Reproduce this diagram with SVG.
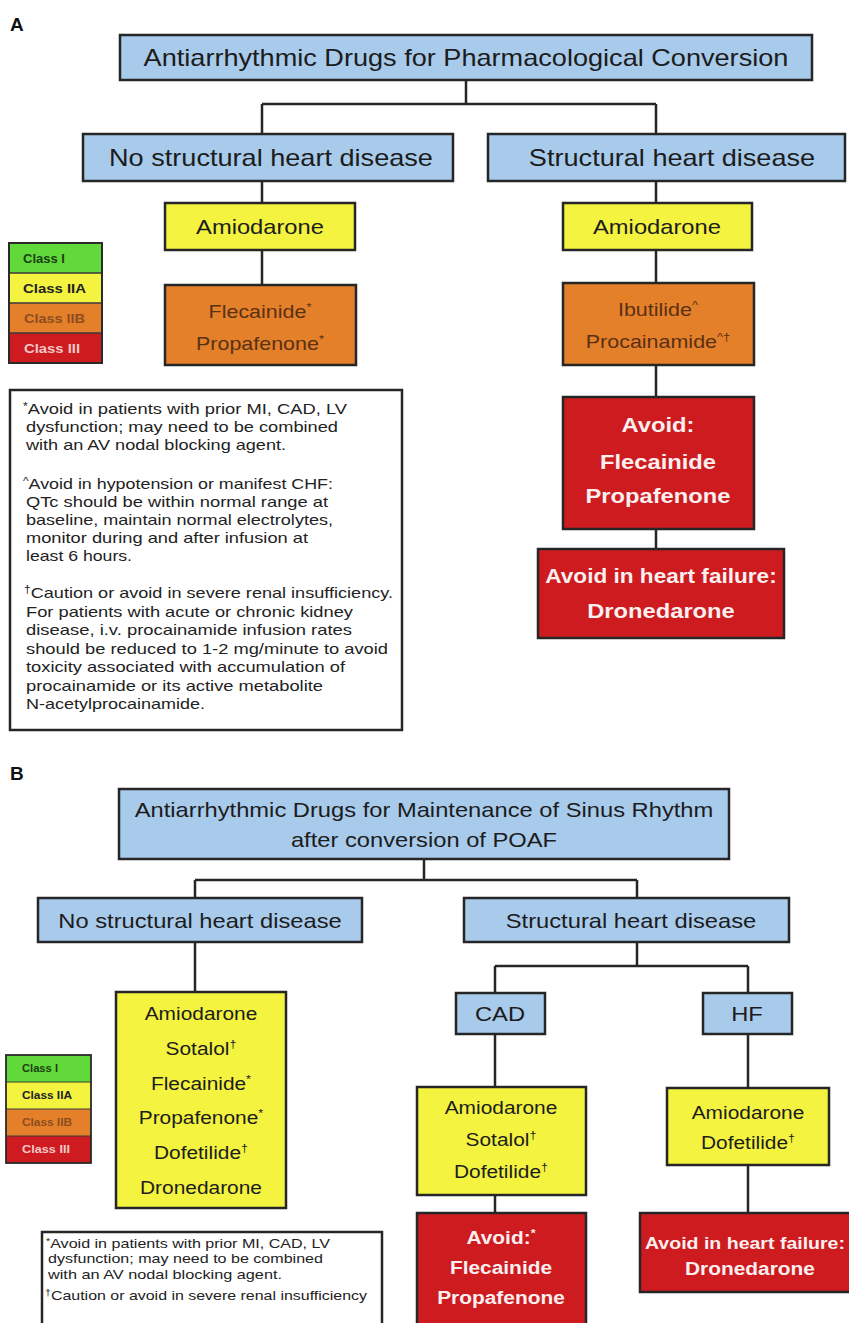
<svg xmlns="http://www.w3.org/2000/svg" width="849" height="1323" viewBox="0 0 849 1323">
  <style>
    text { font-family: "Liberation Sans", Arial, sans-serif; }
    .box { stroke: #262626; stroke-width: 2.5; }
    .blue { fill: #a8caeb; }
    .yellow { fill: #f3f340; }
    .orange { fill: #e4802a; }
    .red { fill: #cd1b20; }
    .green { fill: #62d93a; }
    .line { stroke: #262626; stroke-width: 2.5; fill: none; }
    /* node labels: centred and widened a little */
    .n { text-anchor: middle; transform-box: fill-box; transform-origin: 50% 50%; transform: scaleX(1.13); }
    .dark { fill: #1c1c1c; }
    .brown { fill: #5a3014; }
    .white { fill: #fbefef; font-weight: bold; }
    .sup { font-size: 60%; }
    .lg { font-weight: bold; }
    .fn { fill: #222; }
    .panel { font-weight: bold; font-size: 19px; fill: #111; }
  </style>

  <rect width="849" height="1323" fill="#ffffff"/>

  <!-- panel letters -->
  <text class="panel" x="10" y="31">A</text>
  <text class="panel" x="10" y="780">B</text>

  <!-- connectors -->
  <g id="connectors">
    <!-- panel A -->
    <path class="line" d="M466 80 V104 M262 104 H656 M262 104 V134 M656 104 V134"/>
    <path class="line" d="M262 181 V203 M262 250 V285"/>
    <path class="line" d="M656 181 V203 M656 250 V283 M656 365 V397 M656 529 V549"/>
    <!-- panel B -->
    <path class="line" d="M424 859 V880 M195 880 H637 M195 880 V898 M637 880 V898"/>
    <path class="line" d="M195 942 V992"/>
    <path class="line" d="M637 942 V966 M495 966 H748 M495 966 V993 M748 966 V993"/>
    <path class="line" d="M495 1034 V1087 M495 1195 V1213"/>
    <path class="line" d="M748 1034 V1088 M748 1165 V1213"/>
  </g>

  <!-- ===== Panel A: pharmacological conversion ===== -->
  <g id="a-title">
    <rect class="box blue" x="120" y="35" width="692" height="45"/>
    <text class="n dark" x="466" y="66" font-size="24">Antiarrhythmic Drugs for Pharmacological Conversion</text>
  </g>
  <g id="a-no-shd">
    <rect class="box blue" x="83" y="134" width="370" height="47"/>
    <text class="n dark" x="271" y="166" font-size="24">No structural heart disease</text>
  </g>
  <g id="a-shd">
    <rect class="box blue" x="488" y="134" width="357" height="47"/>
    <text class="n dark" x="672" y="166" font-size="24">Structural heart disease</text>
  </g>
  <g id="a-left-amio">
    <rect class="box yellow" x="165" y="203" width="190" height="47"/>
    <text class="n dark" x="260" y="234" font-size="21">Amiodarone</text>
  </g>
  <g id="a-left-ic">
    <rect class="box orange" x="165" y="285" width="191" height="80"/>
    <text class="n brown" x="260" y="318" font-size="19">Flecainide<tspan class="sup" dy="-7">*</tspan></text>
    <text class="n brown" x="260" y="350" font-size="19">Propafenone<tspan class="sup" dy="-7">*</tspan></text>
  </g>
  <g id="a-right-amio">
    <rect class="box yellow" x="563" y="203" width="189" height="47"/>
    <text class="n dark" x="657" y="234" font-size="21">Amiodarone</text>
  </g>
  <g id="a-right-iii">
    <rect class="box orange" x="563" y="283" width="191" height="82"/>
    <text class="n brown" x="658" y="316" font-size="19">Ibutilide<tspan class="sup" dy="-7">^</tspan></text>
    <text class="n brown" x="658" y="348" font-size="19">Procainamide<tspan class="sup" dy="-7">^†</tspan></text>
  </g>
  <g id="a-avoid-ic">
    <rect class="box red" x="563" y="397" width="191" height="132"/>
    <text class="n white" x="658" y="432" font-size="21">Avoid:</text>
    <text class="n white" x="658" y="469" font-size="21">Flecainide</text>
    <text class="n white" x="658" y="503" font-size="21">Propafenone</text>
  </g>
  <g id="a-avoid-hf">
    <rect class="box red" x="538" y="549" width="246" height="89"/>
    <text class="n white" x="661" y="583" font-size="20">Avoid in heart failure:</text>
    <text class="n white" x="661" y="618" font-size="21">Dronedarone</text>
  </g>

  <!-- class legend A -->
  <g id="a-legend">
    <rect class="green" x="9" y="243" width="93" height="30"/>
    <rect class="yellow" x="9" y="273" width="93" height="30"/>
    <rect class="orange" x="9" y="303" width="93" height="30"/>
    <rect class="red" x="9" y="333" width="93" height="30"/>
    <path d="M9 273 H102 M9 303 H102 M9 333 H102" stroke="#3a3a3a" stroke-width="1.5"/>
    <rect x="9" y="243" width="93" height="120" fill="none" stroke="#2a2a2a" stroke-width="2"/>
    <text class="lg" x="23" y="263" font-size="13" fill="#1b3f12" textLength="42" lengthAdjust="spacingAndGlyphs">Class I</text>
    <text class="lg" x="23" y="293" font-size="13" fill="#222" textLength="63" lengthAdjust="spacingAndGlyphs">Class IIA</text>
    <text class="lg" x="24" y="323" font-size="13" fill="#8d4d20" textLength="61" lengthAdjust="spacingAndGlyphs">Class IIB</text>
    <text class="lg" x="24" y="353" font-size="13" fill="#f3c8c8" textLength="56" lengthAdjust="spacingAndGlyphs">Class III</text>
  </g>

  <!-- footnotes A -->
  <g id="a-notes" class="fn" font-size="15">
    <rect x="10" y="390" width="392" height="340" fill="#ffffff" stroke="#262626" stroke-width="2.5"/>
    <text x="23" y="414" textLength="324" lengthAdjust="spacingAndGlyphs"><tspan font-size="10" dy="-4">*</tspan><tspan dy="4">Avoid in patients with prior MI, CAD, LV</tspan></text>
    <text x="26" y="432" textLength="312" lengthAdjust="spacingAndGlyphs">dysfunction; may need to be combined</text>
    <text x="26" y="450" textLength="260" lengthAdjust="spacingAndGlyphs">with an AV nodal blocking agent.</text>
    <text x="23" y="489" textLength="310" lengthAdjust="spacingAndGlyphs"><tspan font-size="10" dy="-4">^</tspan><tspan dy="4">Avoid in hypotension or manifest CHF:</tspan></text>
    <text x="26" y="507" textLength="302" lengthAdjust="spacingAndGlyphs">QTc should be within normal range at</text>
    <text x="26" y="525" textLength="307" lengthAdjust="spacingAndGlyphs">baseline, maintain normal electrolytes,</text>
    <text x="26" y="543" textLength="282" lengthAdjust="spacingAndGlyphs">monitor during and after infusion at</text>
    <text x="26" y="561" textLength="106" lengthAdjust="spacingAndGlyphs">least 6 hours.</text>
    <text x="24" y="598" textLength="369" lengthAdjust="spacingAndGlyphs"><tspan font-size="10" dy="-5">†</tspan><tspan dy="5">Caution or avoid in severe renal insufficiency.</tspan></text>
    <text x="26" y="616.5" textLength="327" lengthAdjust="spacingAndGlyphs">For patients with acute or chronic kidney</text>
    <text x="26" y="635" textLength="326" lengthAdjust="spacingAndGlyphs">disease, i.v. procainamide infusion rates</text>
    <text x="26" y="653.5" textLength="362" lengthAdjust="spacingAndGlyphs">should be reduced to 1-2 mg/minute to avoid</text>
    <text x="26" y="672" textLength="319" lengthAdjust="spacingAndGlyphs">toxicity associated with accumulation of</text>
    <text x="26" y="690.5" textLength="297" lengthAdjust="spacingAndGlyphs">procainamide or its active metabolite</text>
    <text x="26" y="709" textLength="179" lengthAdjust="spacingAndGlyphs">N-acetylprocainamide.</text>
  </g>

  <!-- ===== Panel B: maintenance of sinus rhythm ===== -->
  <g id="b-title">
    <rect class="box blue" x="119" y="789" width="610" height="70"/>
    <text class="n dark" x="424" y="817" font-size="21">Antiarrhythmic Drugs for Maintenance of Sinus Rhythm</text>
    <text class="n dark" x="424" y="847" font-size="21">after conversion of POAF</text>
  </g>
  <g id="b-no-shd">
    <rect class="box blue" x="38" y="898" width="324" height="44"/>
    <text class="n dark" x="200" y="928" font-size="21">No structural heart disease</text>
  </g>
  <g id="b-shd">
    <rect class="box blue" x="464" y="898" width="325" height="44"/>
    <text class="n dark" x="631" y="928" font-size="21">Structural heart disease</text>
  </g>
  <g id="b-cad">
    <rect class="box blue" x="456" y="993" width="89" height="41"/>
    <text class="n dark" x="500" y="1021" font-size="21">CAD</text>
  </g>
  <g id="b-hf">
    <rect class="box blue" x="703" y="993" width="89" height="41"/>
    <text class="n dark" x="747" y="1021" font-size="21">HF</text>
  </g>
  <g id="b-no-shd-drugs">
    <rect class="box yellow" x="116" y="992" width="170" height="216"/>
    <text class="n dark" x="201" y="1020" font-size="18.5">Amiodarone</text>
    <text class="n dark" x="201" y="1055" font-size="18.5">Sotalol<tspan class="sup" dy="-7">†</tspan></text>
    <text class="n dark" x="201" y="1090" font-size="18.5">Flecainide<tspan class="sup" dy="-7">*</tspan></text>
    <text class="n dark" x="201" y="1124" font-size="18.5">Propafenone<tspan class="sup" dy="-7">*</tspan></text>
    <text class="n dark" x="201" y="1159" font-size="18.5">Dofetilide<tspan class="sup" dy="-7">†</tspan></text>
    <text class="n dark" x="201" y="1194" font-size="18.5">Dronedarone</text>
  </g>
  <g id="b-cad-drugs">
    <rect class="box yellow" x="417" y="1087" width="169" height="108"/>
    <text class="n dark" x="501" y="1114" font-size="18.5">Amiodarone</text>
    <text class="n dark" x="501" y="1146" font-size="18.5">Sotalol<tspan class="sup" dy="-7">†</tspan></text>
    <text class="n dark" x="501" y="1178" font-size="18.5">Dofetilide<tspan class="sup" dy="-7">†</tspan></text>
  </g>
  <g id="b-hf-drugs">
    <rect class="box yellow" x="667" y="1088" width="162" height="77"/>
    <text class="n dark" x="748" y="1119" font-size="18.5">Amiodarone</text>
    <text class="n dark" x="748" y="1149" font-size="18.5">Dofetilide<tspan class="sup" dy="-7">†</tspan></text>
  </g>
  <g id="b-cad-avoid">
    <rect class="box red" x="417" y="1213" width="169" height="120"/>
    <text class="n white" x="501" y="1244" font-size="18.5">Avoid:<tspan class="sup" dy="-7">*</tspan></text>
    <text class="n white" x="501" y="1274" font-size="18.5">Flecainide</text>
    <text class="n white" x="501" y="1304" font-size="18.5">Propafenone</text>
  </g>
  <g id="b-hf-avoid">
    <rect class="box red" x="640" y="1213" width="215" height="79"/>
    <text class="n white" x="745" y="1249" font-size="17.3">Avoid in heart failure:</text>
    <text class="n white" x="750" y="1275" font-size="18.5">Dronedarone</text>
  </g>

  <!-- class legend B -->
  <g id="b-legend">
    <rect class="green" x="6" y="1055" width="85" height="27"/>
    <rect class="yellow" x="6" y="1082" width="85" height="27"/>
    <rect class="orange" x="6" y="1109" width="85" height="27"/>
    <rect class="red" x="6" y="1136" width="85" height="27"/>
    <path d="M6 1082 H91 M6 1109 H91 M6 1136 H91" stroke="#3a3a3a" stroke-width="1.2"/>
    <rect x="6" y="1055" width="85" height="108" fill="none" stroke="#2a2a2a" stroke-width="1.8"/>
    <text class="lg" x="22" y="1072" font-size="10.5" fill="#1b3f12" textLength="36" lengthAdjust="spacingAndGlyphs">Class I</text>
    <text class="lg" x="22" y="1099" font-size="10.5" fill="#222" textLength="50" lengthAdjust="spacingAndGlyphs">Class IIA</text>
    <text class="lg" x="22" y="1126" font-size="10.5" fill="#8d4d20" textLength="50" lengthAdjust="spacingAndGlyphs">Class IIB</text>
    <text class="lg" x="22" y="1153" font-size="10.5" fill="#f3c8c8" textLength="48" lengthAdjust="spacingAndGlyphs">Class III</text>
  </g>

  <!-- footnotes B -->
  <g id="b-notes" class="fn" font-size="13.5">
    <rect x="42" y="1232" width="340" height="110" fill="#ffffff" stroke="#262626" stroke-width="2.5"/>
    <text x="46" y="1248" textLength="284" lengthAdjust="spacingAndGlyphs"><tspan font-size="9" dy="-4">*</tspan><tspan dy="4">Avoid in patients with prior MI, CAD, LV</tspan></text>
    <text x="48" y="1263" textLength="275" lengthAdjust="spacingAndGlyphs">dysfunction; may need to be combined</text>
    <text x="48" y="1279" textLength="234" lengthAdjust="spacingAndGlyphs">with an AV nodal blocking agent.</text>
    <text x="45" y="1300" textLength="322" lengthAdjust="spacingAndGlyphs"><tspan font-size="9" dy="-4">†</tspan><tspan dy="4">Caution or avoid in severe renal insufficiency</tspan></text>
  </g>
</svg>
